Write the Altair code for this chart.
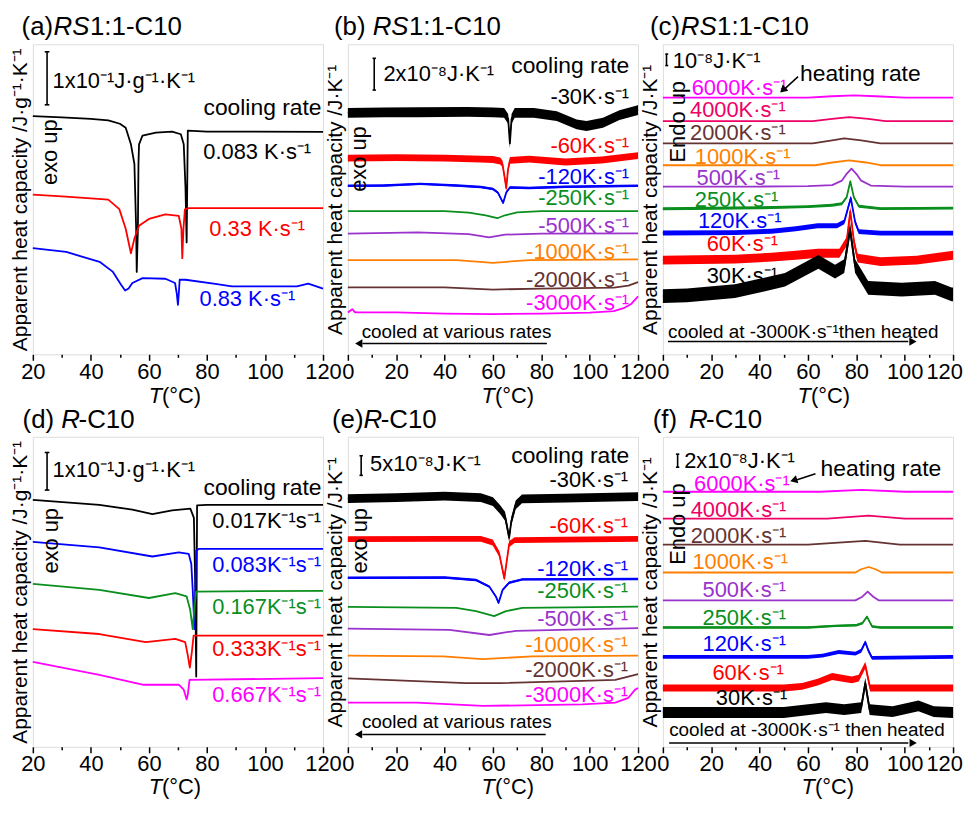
import altair as alt
import pandas as pd

FONT = "Liberation Sans"
W, H = 292, 312          # plot-area size of each panel (px)
YMAX = 316               # y-domain of the offset traces (arbitrary units)

# ---------------- (a) RS1:1-C10, slow cooling (units: arbitrary, offset traces) ----------------
A_T_0083 = [20, 30, 40, 46, 50, 52, 53.8, 55, 55.6, 55.8, 56.2, 56.4, 56.6, 57.8, 62.4, 68, 71, 72, 72.6, 73, 73.2, 73.4, 80, 120]
A_Y_0083 = [242.7, 241.5, 240, 238.5, 235, 231, 214, 194, 128, 84, 128, 194, 214, 223, 226, 227, 224.3, 214, 170, 114, 170, 228, 227, 226.7]
A_T_033 = [20, 30, 40, 46, 49.8, 52, 53.8, 55, 56.6, 60, 65.7, 70.3, 71.2, 71.5, 71.9, 72.4, 73.8, 120]
A_Y_033 = [162.7, 161, 159, 157.7, 148, 128, 103, 118, 131, 138, 142.7, 141, 128, 98, 128, 147.7, 149, 149]
A_T_083 = [20, 31.5, 43, 47.5, 50.4, 51.8, 53, 54.3, 57.8, 65.7, 69, 69.6, 70, 70.3, 70.6, 72.6, 82.9, 88.6, 111, 114.9, 120]
A_Y_083 = [108.3, 104.3, 94.3, 84.3, 71, 65, 67, 72.7, 77.7, 77, 72.7, 62, 50.3, 62, 76, 76, 71.7, 69.3, 69.3, 72, 67]

# ---------------- (b) RS1:1-C10, fast cooling ----------------
B_T_30 = [0, 15, 29, 49.5, 60, 64.6, 66.3, 67, 67.7, 69, 76.9, 86.4, 94.6, 98.7, 105.5, 112.3, 119.2, 120]
B_Y_30 = [246, 246.5, 246.7, 247, 246.5, 246, 240, 215, 240, 246, 246, 242.7, 234.3, 232.7, 236, 243.7, 248.3, 249]
B_T_60 = [0, 20, 40, 55, 60, 63, 63.9, 64.9, 65.5, 66.2, 67, 75, 90, 105, 120]
B_Y_60 = [200, 200.5, 200, 199, 198.5, 197, 194.3, 179.3, 169.3, 187.7, 197.7, 199, 196, 198, 202.5]
B_T_120 = [0, 15, 30, 45, 55, 60, 62, 64.2, 65.5, 67, 75, 90, 120]
B_Y_120 = [171.7, 172, 173.7, 172, 170.5, 168.5, 165, 154.3, 165, 170, 169.5, 170.7, 171.7]
B_T_250 = [0, 40, 50, 57, 61.8, 65, 70, 80, 120]
B_Y_250 = [146, 146, 144.3, 141.7, 138.7, 141.7, 144.7, 146, 146]
B_T_500 = [0, 29, 50, 58.4, 65, 80, 120]
B_Y_500 = [123, 124.3, 122.5, 119.3, 122, 123, 123.3]
B_T_1000 = [0, 45, 60, 75, 120]
B_Y_1000 = [96, 96, 93.3, 96, 96.7]
B_T_2000 = [0, 40, 60, 80, 110, 116, 120]
B_Y_2000 = [68.3, 68.3, 66, 67, 68, 70, 73.5]
B_T_3000 = [0, 1.8, 3, 20, 40, 60, 80, 100, 110, 114, 117, 120]
B_Y_3000 = [42.7, 46, 42.7, 42.7, 41.5, 41, 41.5, 42.5, 44, 47, 51, 59]

# ---------------- (c) RS1:1-C10, heating ----------------
C_T_6000 = [0, 60, 70, 79, 88, 100, 120]
C_Y_6000 = [261.7, 261.7, 263, 264, 263, 261.7, 261.7]
C_T_4000 = [0, 62, 70, 77, 85, 92, 120]
C_Y_4000 = [237.7, 237.7, 240, 241.7, 240, 237.7, 237.7]
C_T_2000 = [0, 62, 70, 75, 82, 90, 120]
C_Y_2000 = [215, 215, 218, 220, 218, 215, 215]
C_T_1000 = [0, 63, 70, 77, 84, 90, 120]
C_Y_1000 = [192.7, 192.7, 195.5, 197.7, 195.5, 192.7, 192.7]
C_T_500 = [0, 40, 60, 70, 74, 76, 78, 80, 82, 86, 100, 120]
C_Y_500 = [171, 171, 171.5, 172.5, 177, 184, 189.3, 184, 177, 172, 171, 171]
C_T_250 = [0, 40, 60, 70, 74, 76, 77.5, 79, 81, 90, 120]
C_Y_250 = [148.3, 149.3, 150.5, 152, 153.5, 160, 176.3, 160, 151, 148.5, 149]
C_T_120 = [0, 30, 45, 55, 64, 72, 75, 77.7, 79.5, 81, 90, 120]
C_Y_120 = [123.7, 124, 125.5, 128, 131, 131, 135, 159.3, 135, 125, 123.5, 123.5]
C_T_60 = [0, 30, 45, 55, 64, 73, 76, 77.5, 79, 80.5, 90, 105, 120]
C_Y_60 = [96, 97, 99, 101, 103, 103, 115, 146, 115, 98, 94.5, 96, 101]
C_T_30 = [0, 10, 29.8, 50.5, 64.3, 71.2, 75, 77.4, 79.5, 84.9, 98.8, 112.5, 119.4, 120]
C_Y_30 = [59.3, 60, 64.3, 76, 94.3, 84.3, 90, 127.7, 90, 67.7, 66, 67.7, 61, 61]

# ---------------- (d) R-C10, slow cooling ----------------
D_T_0017 = [20, 42.9, 54.3, 61.2, 68, 74.3, 75.5, 76, 76.3, 76.6, 80, 120]
D_Y_0017 = [251.7, 246.7, 241.7, 237.3, 241, 242.7, 233.3, 160, 71.7, 246, 246.7, 246.7]
D_T_0083 = [20, 42.9, 61.2, 70.3, 73.7, 74.6, 75.1, 75.7, 76.3, 77.2, 120]
D_Y_0083 = [209, 203.3, 194, 198.3, 196.7, 186.7, 160, 120, 200, 201.7, 201.7]
D_T_0167 = [20, 42.9, 60, 69.1, 73, 74.2, 75.1, 75.7, 76.3, 120]
D_Y_0167 = [166, 160, 151.7, 156.7, 153.3, 140, 120, 143, 158.3, 159]
D_T_0333 = [20, 42.9, 58.9, 69.1, 72.5, 73.4, 74.1, 74.8, 75.4, 120]
D_Y_0333 = [120, 115, 106.7, 110, 106.7, 93.3, 80.7, 96.7, 113.3, 113.3]
D_T_0667 = [20, 42.9, 57.8, 70.3, 72, 73, 73.4, 74, 120]
D_Y_0667 = [86.7, 73.3, 63.3, 63.3, 58.3, 48.3, 53.3, 68.3, 70]

# ---------------- (e) R-C10, fast cooling ----------------
E_T_30 = [0, 20, 40, 55, 60, 63, 65, 66.7, 67.6, 69.4, 72, 90, 120]
E_Y_30 = [253, 254, 255.5, 254, 250, 241.7, 235, 213.3, 230, 246.7, 252.7, 253.5, 255]
E_T_60 = [0, 40, 55, 59.9, 62.6, 64.7, 66.7, 69, 120]
E_Y_60 = [211.7, 212, 212, 208.3, 196.7, 171.7, 206.7, 210.7, 212]
E_T_120 = [0, 40, 53, 58.5, 61.2, 62.3, 64, 66.7, 72.2, 120]
E_Y_120 = [172.3, 172.5, 170, 163.3, 153.3, 146.7, 160, 167.3, 170.7, 171]
E_T_250 = [0, 44.8, 53, 60.5, 65.4, 72.2, 120]
E_Y_250 = [142.7, 141.7, 138.3, 133.3, 138.3, 141.7, 143]
E_T_500 = [0, 42, 58.5, 69.5, 120]
E_Y_500 = [120.5, 119.3, 114, 118.3, 121]
E_T_1000 = [0, 39.3, 55.8, 76.3, 120]
E_Y_1000 = [93, 92.3, 89.3, 92.3, 93]
E_T_2000 = [0, 48.9, 62.6, 96.9, 110.6, 118.8, 120]
E_Y_2000 = [69.7, 65, 65, 67.3, 68.3, 73.3, 74]
E_T_3000 = [0, 28.4, 55.8, 96.9, 110.6, 116, 118.8, 120]
E_Y_3000 = [45, 45, 41.7, 43.3, 45, 50, 58.3, 60]

# ---------------- (f) R-C10, heating ----------------
F_T_6000 = [0, 65, 82, 100, 120]
F_Y_6000 = [260, 260, 262, 260, 260]
F_T_4000 = [0, 68, 85, 100, 120]
F_Y_4000 = [232.7, 232.7, 235.7, 232.7, 232.7]
F_T_2000 = [0, 60, 83.7, 98, 120]
F_Y_2000 = [206, 206, 210, 206, 206]
F_T_1000 = [0, 79.6, 82, 85.1, 88, 90.6, 120]
F_Y_1000 = [177.7, 177.7, 181, 183.3, 181, 177.7, 177.7]
F_T_500 = [0, 79.6, 82.5, 84.7, 87, 89.2, 120]
F_Y_500 = [149.3, 149.3, 153, 158.3, 153, 149.3, 149.3]
F_T_250 = [0, 60, 71.3, 80, 82.5, 84.4, 86.5, 90, 120]
F_Y_250 = [121.7, 121.7, 123.3, 124, 126, 132.7, 122.7, 121.7, 121.7]
F_T_120 = [0, 60, 66, 72.7, 79.6, 82, 83.7, 85, 86.5, 120]
F_Y_120 = [91.7, 91.7, 93, 96.7, 95, 98, 106.7, 98, 90.7, 91.7]
F_T_60 = [0, 50, 57.6, 64, 70, 78.2, 81, 83.7, 85.7, 100, 120]
F_Y_60 = [60, 60, 61.7, 66, 71.7, 68.3, 70, 83.3, 60, 60, 60]
F_T_30 = [0, 50, 67.4, 75, 82, 83.7, 85.5, 95, 105.7, 112, 120]
F_Y_30 = [35, 35, 40, 38, 40, 65, 38, 36, 41.7, 36, 35]

# ---------------- tick values ----------------
TICKS_20 = [20, 30, 40, 50, 60, 70, 80, 90, 100, 110, 120]
TICKS_0 = [0, 10, 20, 30, 40, 50, 60, 70, 80, 90, 100, 110, 120]

# ---------------- styles ----------------
COL = {"black": "#000000", "red": "#ff0000", "blue": "#0000ff", "green": "#0a8f1e",
       "purple": "#9933cc", "orange": "#ff7f00", "brown": "#663333",
       "magenta": "#ff00ff", "crimson": "#ee0066"}
FS = 22          # in-plot labels
TKFS = 22        # tick labels
TFS = 26         # panel titles
LW = 1.8         # clean trace width
TITLE_Y = -17    # panel-title centre, px above plot top

YT_G = "Apparent heat capacity /J·g⁻¹·K⁻¹"
YT_J = "Apparent heat capacity /J·K⁻¹"


def enc_x(xdom, ticks, shift_last):
    ax = dict(values=ticks,
              labelExpr="datum.value % 20 === 0 ? datum.label : ''",
              tickSize={"condition": {"test": "datum.value % 20 === 0", "value": 6}, "value": 3},
              tickColor="black", tickWidth=1.5, labelFont=FONT, labelFontSize=TKFS,
              labelColor="black", labelPadding=1, labelFlush=False, labelOverlap=False,
              domain=False, grid=False, title=None)
    if shift_last:
        ax["labelOffset"] = {"condition": {"test": "datum.value === 120", "value": -9}, "value": 0}
    return alt.X("T:Q", scale=alt.Scale(domain=xdom, nice=False, zero=False), axis=alt.Axis(**ax))


def enc_y(ytitle, field="Y"):
    return alt.Y(f"{field}:Q", scale=alt.Scale(domain=[0, YMAX], nice=False, zero=False),
                 axis=alt.Axis(title=ytitle, labels=False, ticks=False, domain=False, grid=False,
                               titleFont=FONT, titleFontSize=21, titleFontWeight="normal",
                               titleColor="black", titlePadding=2))


def panel(xdom, ticks, ytitle, curves, labels, label_align, titles, xt, texts, segs, heads,
          shift_last=False):
    X = enc_x(xdom, ticks, shift_last)
    Y = enc_y(ytitle)
    colour = {c[0]: COL[c[1]] for c in curves}
    rows = []
    for name, color, ts, ys, w in curves:
        for t, y in zip(ts, ys):
            rows.append({"T": t, "Y": y, "lo": y - w / 2, "hi": y + w / 2, "curve": name,
                         "col": COL[color]})
    df = pd.DataFrame(rows)
    CE = alt.Color("col:N", scale=None, legend=None)
    noisy = df[df["hi"] > df["lo"]]
    layers = []
    if len(noisy):
        layers.append(alt.Chart(noisy).mark_area(opacity=1).encode(
            x=X, y=enc_y(ytitle, "lo"), y2="hi:Q", color=CE, detail="curve:N"))
    layers.append(alt.Chart(df).mark_line(strokeJoin="round", strokeWidth=LW).encode(
        x=X, y=Y, color=CE, detail="curve:N"))
    ldf = pd.DataFrame([{"T": t, "Y": y, "txt": s, "col": colour[n]} for n, t, y, s in labels])
    layers.append(alt.Chart(ldf).mark_text(align=label_align, baseline="middle", font=FONT,
                                           fontSize=FS).encode(x=X, y=Y, text="txt:N", color=CE))
    # panel titles and x-axis title, placed in pixels relative to the plot area
    for px, py, s, props in titles + xt:
        mp = dict(align="left", baseline="middle", font=FONT, fontSize=TFS, color="black")
        mp.update(props)
        layers.append(alt.Chart(pd.DataFrame([{"txt": s}])).mark_text(**mp).encode(
            x=alt.value(px), y=alt.value(py), text="txt:N"))
    for t, y, s, props in texts:
        mp = dict(align="left", baseline="middle", font=FONT, fontSize=FS, color="black")
        mp.update(props)
        layers.append(alt.Chart(pd.DataFrame([{"T": t, "Y": y, "txt": s}])).mark_text(**mp).encode(
            x=X, y=Y, text="txt:N"))
    sdf = pd.DataFrame([{"T": a, "Y": b, "T2": c, "Y2": d, "w": w} for a, b, c, d, w in segs])
    layers.append(alt.Chart(sdf).mark_rule(color="black").encode(
        x=X, y=Y, x2="T2:Q", y2="Y2:Q", strokeWidth=alt.StrokeWidth("w:Q", scale=None, legend=None)))
    for t, y, shape, ang in heads:
        layers.append(alt.Chart(pd.DataFrame([{"T": t, "Y": y}])).mark_point(
            shape=shape, filled=True, color="black", size=70, angle=ang, opacity=1).encode(x=X, y=Y))
    return alt.layer(*layers).properties(width=W, height=H)


def ttl(parts, y=TITLE_Y):
    out = []
    for px, s, italic in parts:
        p = {"fontStyle": "italic"} if italic else {}
        out.append((px, y, s, p))
    return out


def xtitle(px, dy):
    return [(px, H + dy, "T", {"align": "right", "fontStyle": "italic", "fontSize": 22}),
            (px, H + dy, "(°C)", {"align": "left", "fontSize": 22})]


SB = 1.6  # scale-bar width
# ---------- panel a ----------
pa = panel([20, 120], TICKS_20, YT_G,
           [("0.083", "black", A_T_0083, A_Y_0083, 0),
            ("0.33", "red", A_T_033, A_Y_033, 0),
            ("0.83", "blue", A_T_083, A_Y_083, 0)],
           [("0.083", 115.9, 206, "0.083 K·s⁻¹"),
            ("0.33", 113.8, 128, "0.33 K·s⁻¹"),
            ("0.83", 110.4, 56, "0.83 K·s⁻¹")], "right",
           ttl([(-11.3, "(a)", False), (20.8, "RS", True), (57.5, "1:1-C10", False)]),
           xtitle(130, 42),
           [(119.5, 251, "cooling rate", {"align": "right", "fontSize": 23}),
            (26.8, 279, "1x10⁻¹J·g⁻¹·K⁻¹", {}),
            (25.8, 206, "exo up", {"align": "center", "angle": 270})],
           [(24.9, 254.3, 24.9, 308.3, SB), (24.1, 308.3, 25.7, 308.3, SB), (24.1, 254.3, 25.7, 254.3, SB)],
           [])

# ---------- panel b ----------
pb = panel([0, 120], TICKS_0, YT_J,
           [("-30", "black", B_T_30, B_Y_30, 10),
            ("-60", "red", B_T_60, B_Y_60, 7),
            ("-120", "blue", B_T_120, B_Y_120, 2.5),
            ("-250", "green", B_T_250, B_Y_250, 0),
            ("-500", "purple", B_T_500, B_Y_500, 0),
            ("-1000", "orange", B_T_1000, B_Y_1000, 0),
            ("-2000", "brown", B_T_2000, B_Y_2000, 0),
            ("-3000", "magenta", B_T_3000, B_Y_3000, 0)],
           [("-30", 116.3, 262.7, "-30K·s⁻¹"), ("-60", 116.3, 212.7, "-60K·s⁻¹"),
            ("-120", 116.3, 181, "-120K·s⁻¹"), ("-250", 116.3, 159.3, "-250K·s⁻¹"),
            ("-500", 116.3, 131, "-500K·s⁻¹"), ("-1000", 116.3, 104.3, "-1000K·s⁻¹"),
            ("-2000", 116.3, 76, "-2000K·s⁻¹"), ("-3000", 116.3, 52.7, "-3000K·s⁻¹")], "right",
           ttl([(-14, "(b)", False), (25, "RS", True), (61.5, "1:1-C10", False)]),
           xtitle(148, 42),
           [(116.4, 294.3, "cooling rate", {"align": "right", "fontSize": 23}),
            (14.7, 286, "2x10⁻⁸J·K⁻¹", {}),
            (4.5, 199, "exo up", {"align": "center", "angle": 270}),
            (5.7, 23, "cooled at various rates", {"fontSize": 19})],
           [(10.9, 269.3, 10.9, 301.7, SB), (10.2, 301.7, 11.6, 301.7, SB), (10.2, 269.3, 11.6, 269.3, SB),
            (82.3, 11, 6.0, 11, 1.5)],
           [(4.5, 11, "triangle-left", 0)])

# ---------- panel c ----------
pc = panel([0, 120], TICKS_0, YT_J,
           [("6000", "magenta", C_T_6000, C_Y_6000, 0),
            ("4000", "crimson", C_T_4000, C_Y_4000, 0),
            ("2000", "brown", C_T_2000, C_Y_2000, 0),
            ("1000", "orange", C_T_1000, C_Y_1000, 0),
            ("500", "purple", C_T_500, C_Y_500, 0),
            ("250", "green", C_T_250, C_Y_250, 3),
            ("120", "blue", C_T_120, C_Y_120, 5),
            ("60", "red", C_T_60, C_Y_60, 9),
            ("30", "black", C_T_30, C_Y_30, 14)],
           [("6000", 11.9, 271, "6000K·s⁻¹"), ("4000", 11.2, 249.3, "4000K·s⁻¹"),
            ("2000", 11.2, 226, "2000K·s⁻¹"), ("1000", 13.2, 201, "1000K·s⁻¹"),
            ("500", 13.9, 179.3, "500K·s⁻¹"), ("250", 13.2, 157.7, "250K·s⁻¹"),
            ("120", 14.5, 136, "120K·s⁻¹"), ("60", 18.1, 112.7, "60K·s⁻¹"),
            ("30", 18.1, 79.3, "30K·s⁻¹")], "left",
           ttl([(-13, "(c)", False), (18, "RS", True), (54.5, "1:1-C10", False)]),
           xtitle(149, 42),
           [(56.7, 286, "heating rate", {"fontSize": 23}),
            (4.1, 299.3, "10⁻⁸J·K⁻¹", {}),
            (6.2, 237, "Endo up", {"align": "center", "angle": 270}),
            (2.1, 23, "cooled at -3000K·s⁻¹then heated", {"fontSize": 19})],
           [(1.5, 294.3, 1.5, 306, SB), (1.0, 306, 2.2, 306, SB), (1.0, 294.3, 2.2, 294.3, SB),
            (55.9, 283, 50.6, 271, 1.5), (2.1, 13, 101.5, 13, 1.5)],
           [(49.6, 269.3, "triangle-left", 317.6), (103.4, 13, "triangle-right", 0)],
           shift_last=True)

# ---------- panel d ----------
pd_ = panel([20, 120], TICKS_20, YT_G,
            [("0.017", "black", D_T_0017, D_Y_0017, 0),
             ("0.083", "blue", D_T_0083, D_Y_0083, 0),
             ("0.167", "green", D_T_0167, D_Y_0167, 0),
             ("0.333", "red", D_T_0333, D_Y_0333, 0),
             ("0.667", "magenta", D_T_0667, D_Y_0667, 0)],
            [("0.017", 119.3, 230, "0.017K⁻¹s⁻¹"), ("0.083", 119.3, 185, "0.083K⁻¹s⁻¹"),
             ("0.167", 119.3, 142, "0.167K⁻¹s⁻¹"), ("0.333", 119.3, 100, "0.333K⁻¹s⁻¹"),
             ("0.667", 119.3, 53.3, "0.667K⁻¹s⁻¹")], "right",
            ttl([(-10.3, "(d)", False), (28.7, "R", True), (46, "-C10", False)]),
            xtitle(130, 40),
            [(119.5, 263.3, "cooling rate", {"align": "right", "fontSize": 23}),
             (26.8, 281.7, "1x10⁻¹J·g⁻¹·K⁻¹", {}),
             (26.4, 210, "exo up", {"align": "center", "angle": 270})],
            [(24.9, 261.7, 24.9, 300, SB), (24.1, 300, 25.7, 300, SB), (24.1, 261.7, 25.7, 261.7, SB)],
            [])

# ---------- panel e ----------
pe = panel([0, 120], TICKS_0, YT_J,
           [("-30", "black", E_T_30, E_Y_30, 9),
            ("-60", "red", E_T_60, E_Y_60, 6),
            ("-120", "blue", E_T_120, E_Y_120, 2.5),
            ("-250", "green", E_T_250, E_Y_250, 0),
            ("-500", "purple", E_T_500, E_Y_500, 0),
            ("-1000", "orange", E_T_1000, E_Y_1000, 0),
            ("-2000", "brown", E_T_2000, E_Y_2000, 0),
            ("-3000", "magenta", E_T_3000, E_Y_3000, 0)],
           [("-30", 115.9, 271.7, "-30K·s⁻¹"), ("-60", 115.9, 225, "-60K·s⁻¹"),
            ("-120", 115.9, 181.7, "-120K·s⁻¹"), ("-250", 115.9, 158.3, "-250K·s⁻¹"),
            ("-500", 115.9, 130, "-500K·s⁻¹"), ("-1000", 115.9, 103.3, "-1000K·s⁻¹"),
            ("-2000", 115.9, 78.3, "-2000K·s⁻¹"), ("-3000", 115.9, 53.3, "-3000K·s⁻¹")], "right",
           ttl([(-16, "(e)", False), (15.8, "R", True), (33, "-C10", False)]),
           xtitle(148, 40),
           [(116.4, 296.7, "cooling rate", {"align": "right", "fontSize": 23}),
            (9.2, 288.3, "5x10⁻⁸J·K⁻¹", {}),
            (5.1, 210, "exo up", {"align": "center", "angle": 270}),
            (5.8, 25, "cooled at various rates", {"fontSize": 19})],
           [(5.5, 276.7, 5.5, 296.7, SB), (4.8, 296.7, 6.2, 296.7, SB), (4.8, 276.7, 6.2, 276.7, SB),
            (81.8, 12.7, 6.0, 12.7, 1.5)],
           [(4.4, 12.7, "triangle-left", 0)])

# ---------- panel f ----------
pf = panel([0, 120], TICKS_0, YT_J,
           [("6000", "magenta", F_T_6000, F_Y_6000, 0),
            ("4000", "crimson", F_T_4000, F_Y_4000, 0),
            ("2000", "brown", F_T_2000, F_Y_2000, 0),
            ("1000", "orange", F_T_1000, F_Y_1000, 0),
            ("500", "purple", F_T_500, F_Y_500, 0),
            ("250", "green", F_T_250, F_Y_250, 2.5),
            ("120", "blue", F_T_120, F_Y_120, 4),
            ("60", "red", F_T_60, F_Y_60, 7),
            ("30", "black", F_T_30, F_Y_30, 11)],
           [("6000", 12.9, 268.3, "6000K·s⁻¹"), ("4000", 11.5, 241.7, "4000K·s⁻¹"),
            ("2000", 11.5, 215, "2000K·s⁻¹"), ("1000", 12.2, 188.3, "1000K·s⁻¹"),
            ("500", 16.4, 160, "500K·s⁻¹"), ("250", 16.4, 131.7, "250K·s⁻¹"),
            ("120", 16.4, 105, "120K·s⁻¹"), ("60", 20.5, 75, "60K·s⁻¹"),
            ("30", 21.9, 50, "30K·s⁻¹")], "left",
           ttl([(-10.3, "(f)", False), (26.3, "R", True), (43.5, "-C10", False)]),
           xtitle(153, 40),
           [(65.2, 283.3, "heating rate", {"fontSize": 23}),
            (8.8, 291.7, "2x10⁻⁸J·K⁻¹", {}),
            (6.1, 227, "Endo up", {"align": "center", "angle": 270}),
            (2.6, 16.7, "cooled at -3000K·s⁻¹ then heated", {"fontSize": 19})],
           [(6.1, 285, 6.1, 298.3, SB), (5.4, 298.3, 6.8, 298.3, SB), (5.4, 285, 6.8, 285, SB),
            (63.1, 278.3, 55.5, 272.2, 1.5), (2.6, 4, 101.5, 4, 1.5)],
           [(54.1, 271.7, "triangle-left", 343), (103.5, 4, "triangle-right", 0)],
           shift_last=True)

chart = alt.concat(pa, pb, pc, pd_, pe, pf, columns=3, bounds="flush",
                   spacing={"row": 83, "column": 25}).properties(
    padding={"left": 1, "top": 3, "right": 0, "bottom": 0}
).configure_view(stroke="black", strokeWidth=2).configure(background="white")

chart.save("out.html", embed_options={"renderer": "svg", "actions": False})
